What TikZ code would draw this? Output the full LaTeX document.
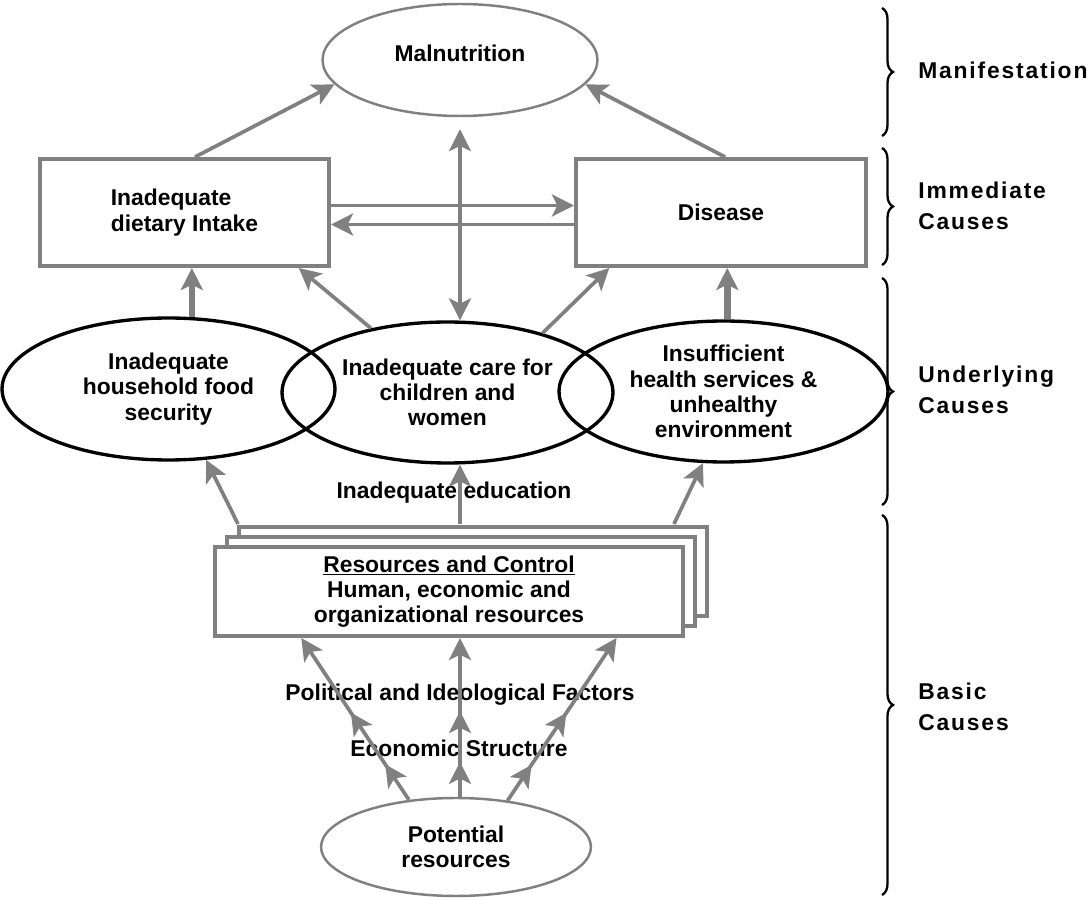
\documentclass[tikz,border=0pt]{standalone}
\usepackage{fontspec}
\setmainfont{Liberation Sans}
\newfontfamily\spacedfont[LetterSpace=8]{Liberation Sans}
\usetikzlibrary{arrows.meta,shapes.geometric,shadows,calc,decorations.pathreplacing,decorations.markings}
\definecolor{linegray}{RGB}{128,128,128}

\begin{document}
\begin{tikzpicture}[x=0.02cm, y=-0.02cm, >={Stealth[length=12.5pt,width=12.5pt,inset=3pt]}]
    \tikzstyle{every node}=[font=\bfseries\fontsize{13}{14.4}\selectfont, align=center, inner sep=0pt]
    \tikzstyle{grayoval}=[ellipse, draw=linegray, line width=1.4pt]
    \tikzstyle{blackoval}=[ellipse, draw=black, line width=1.9pt]
    \tikzstyle{graybox}=[rectangle, draw=linegray, line width=2.3pt]
    \tikzstyle{link}=[->, draw=linegray, line width=2.1pt]
    \tikzstyle{biglink}=[->, draw=linegray, line width=3.8pt]
    \tikzstyle{steps}=[postaction={decorate}, decoration={markings, mark=at position 0.22 with {\arrow{>}}, mark=at position 0.54 with {\arrow{>}}}]
    \tikzstyle{brace}=[decorate, decoration={brace, amplitude=0.22cm}, line width=1.3pt]
    \tikzstyle{level}=[font=\spacedfont\bfseries\fontsize{13}{17.8}\selectfont, align=left, anchor=west]

    \useasboundingbox (0,0) rectangle (1090,898);

    % levels of causes
    \node[grayoval, minimum width=5.5cm, minimum height=2.24cm] (mal) at (460,60) {\raisebox{-0.6pt}[0pt][0pt]{Malnutrition}};
    \node[graybox, align=left, minimum width=5.78cm, minimum height=2.14cm] (diet) at (184.5,212.5) {Inadequate\\dietary Intake};
    \node[graybox, minimum width=5.8cm, minimum height=2.14cm] (dis) at (721,212.5) {Disease};
    \node[blackoval, minimum width=6.66cm, minimum height=2.84cm] (food) at (168.5,389) {Inadequate\\household food\\security};
    \node[blackoval, minimum width=6.62cm, minimum height=2.82cm] (care) at (447.5,392.5) {Inadequate care for\\children and\\women};
    \node[blackoval, minimum width=6.58cm, minimum height=2.82cm] (health) at (723.5,391.5) {Insufficient\\health services \&\\unhealthy\\environment};
    \node (edu) at (454,493) {Inadequate education};
    \node[graybox, fill=white, minimum width=9.36cm, minimum height=1.78cm,
          double copy shadow={shadow xshift=0.24cm, shadow yshift=0.2cm, draw=linegray, fill=white, line width=2.3pt}]
          (res) at (449,591.5) {\underline{Resources and Control}\\Human, economic and\\organizational resources};
    \node (pif) at (460,695) {Political and Ideological Factors};
    \node (eco) at (459,748) {Economic Structure};
    \node[grayoval, minimum width=5.4cm, minimum height=1.96cm] (pot) at (456,847) {Potential\\resources};

    \coordinate (rmid) at ($(res.north)+(11,-21)$);

    % arrows
    \draw[link] ($(diet.north west)!0.536!(diet.north east)$) -- (mal.191);
    \draw[link] ($(dis.north west)!0.514!(dis.north east)$) -- (mal.349);
    \draw[link, <->, shorten <=0.24cm] (mal.south) -- (mal.south |- care.north);
    \draw[link] ($(diet.east)+(0,-7)$) -- ($(dis.west)+(0,-7)$);
    \draw[link] ($(dis.west)+(0,12)$) -- ($(diet.east)+(0,12)$);
    \draw[biglink] (food.72) -- (food.72 |- diet.south);
    \draw[link] (care.140) -- ($(diet.south west)!0.89!(diet.south east)$);
    \draw[link] (care.32) -- ($(dis.south west)!0.12!(dis.south east)$);
    \draw[biglink] (health.87) -- (health.87 |- dis.south);
    \draw[link] ($(res.north west)+(25,-21)$) -- (food.-62);
    \draw[link] (rmid) -- (rmid |- care.south);
    \draw[link] ($(res.north east)+(-11,-21)$) -- (health.254);
    \draw[link, steps] (pot.135) -- ($(res.south west)!0.187!(res.south east)$);
    \draw[link, steps] (rmid |- pot.north) -- (rmid |- res.south);
    \draw[link, steps] (pot.42) -- ($(res.south west)!0.855!(res.south east)$);

    % braces
    \draw[brace] (882,8) -- (882,136);
    \draw[brace] (882,148) -- (882,265);
    \draw[brace] (882,278) -- (882,505);
    \draw[brace] (882,515) -- (882,895);
    \node[level] (lman) at (918,70) {Manifestation};
    \node[level] (limm) at (918,206) {Immediate\\Causes};
    \node[level] (lund) at (918,390) {Underlying\\Causes};
    \node[level] (lbas) at (918,707) {Basic\\Causes};
\end{tikzpicture}
\end{document}
